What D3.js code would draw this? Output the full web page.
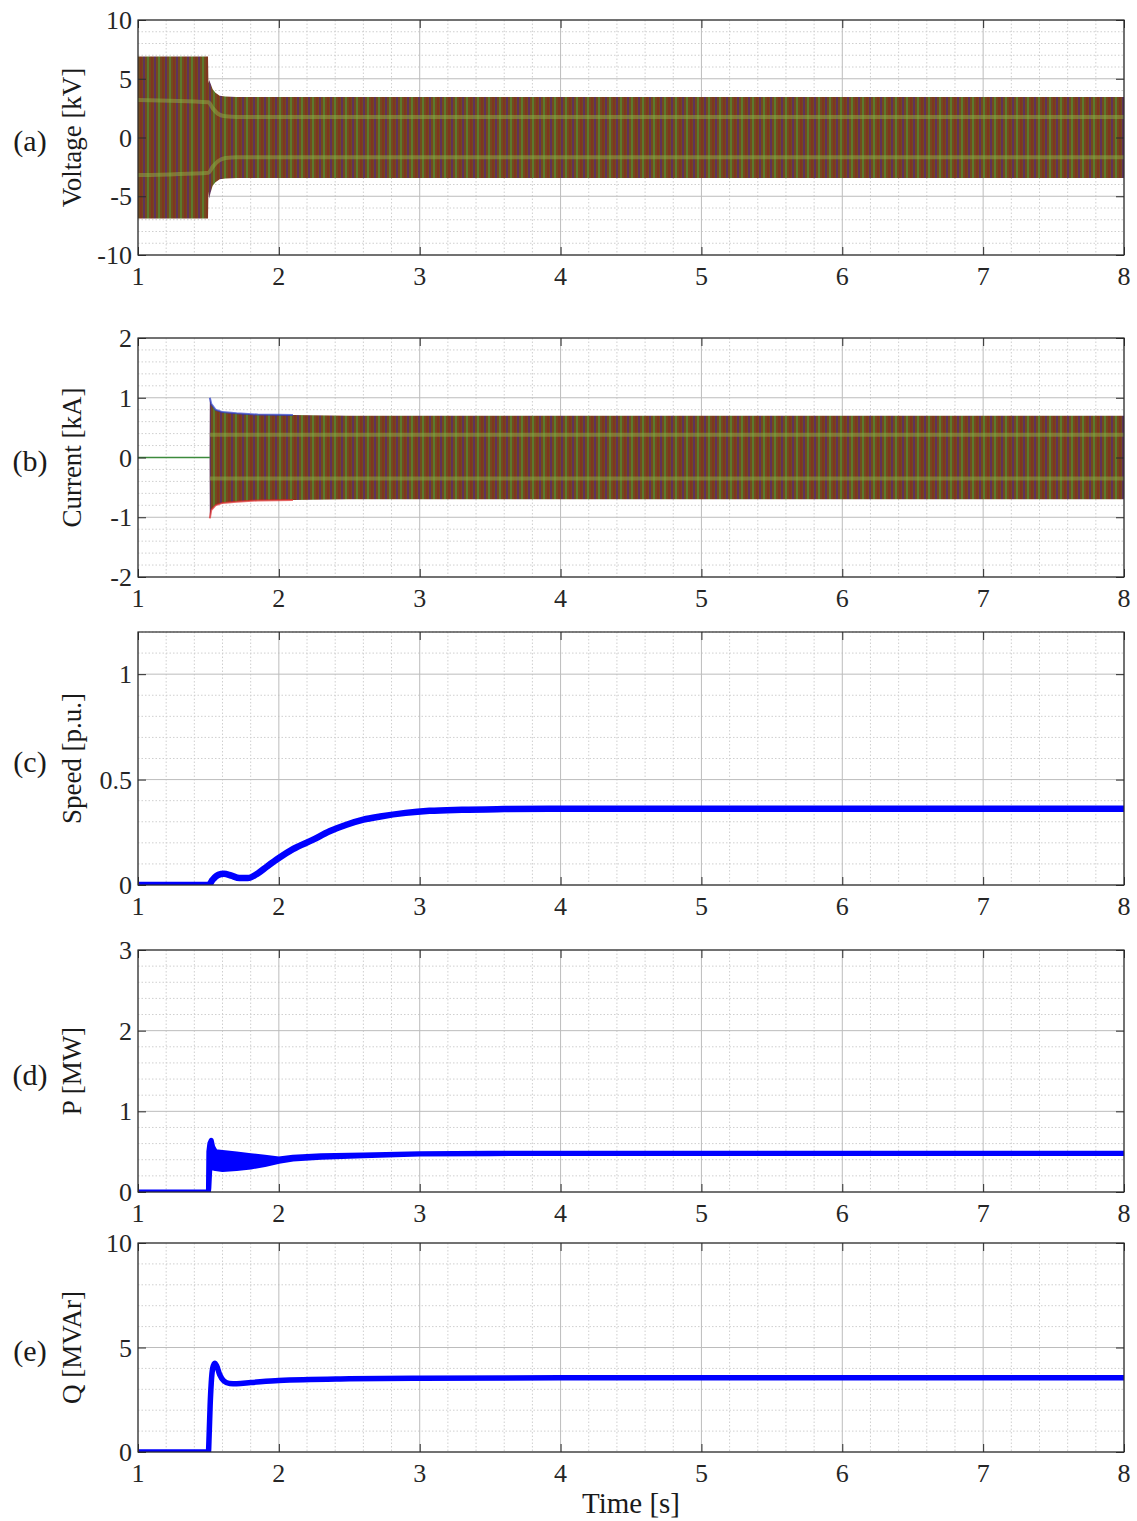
<!DOCTYPE html>
<html>
<head>
<meta charset="utf-8">
<script src="https://cdn.jsdelivr.net/npm/d3@7"></script>
<style>
  body { margin: 0; background: #fff; }
  svg text { font-family: "Liberation Serif", "DejaVu Serif", serif; }
</style>
</head>
<body>
<div id="chart"></div>
<script>
// ---- data ----
const xTicks = [1, 2, 3, 4, 5, 6, 7, 8];

// (a) voltage envelope of the three phases [kV]
const voltTime = [1.0, 1.497, 1.5, 1.505, 1.515, 1.53, 1.55, 1.58, 1.62, 1.7, 2.0, 3.0, 8.0];
const voltHi   = [6.9, 6.9, 4.6, 4.9, 4.6, 4.1, 3.8, 3.55, 3.48, 3.45, 3.45, 3.45, 3.45];
const voltLo   = [-6.9, -6.9, -4.6, -5.2, -4.7, -4.1, -3.8, -3.55, -3.48, -3.45, -3.45, -3.45, -3.45];
// phase-crossing levels (light green streaks)
const voltMidTime = [1.0, 1.5, 1.53, 1.57, 1.62, 1.7, 8.0];
const voltMidHi   = [3.2, 3.0, 2.5, 2.0, 1.8, 1.75, 1.75];
const voltMidLo   = [-3.2, -3.0, -2.5, -2.0, -1.75, -1.68, -1.68];

// (b) current envelope [kA]
const currTime = [1.0, 1.508, 1.51, 1.52, 1.55, 1.6, 1.7, 1.85, 2.1, 2.5, 8.0];
const currHi   = [0, 0, 1.0, 0.9, 0.8, 0.76, 0.74, 0.72, 0.71, 0.7, 0.7];
const currLo   = [0, 0, -1.02, -0.88, -0.8, -0.76, -0.74, -0.72, -0.71, -0.7, -0.7];
const currMidTime = [1.51, 8.0];
const currMidHi   = [0.38, 0.38];
const currMidLo   = [-0.35, -0.35];

// (c) speed [p.u.]
const speedTime = [1, 1.5, 1.53, 1.57, 1.61, 1.66, 1.72, 1.78, 1.85, 1.92, 2.0, 2.1, 2.24, 2.36, 2.48, 2.6, 2.72, 2.9, 3.07, 3.3, 3.6, 4, 5, 8];
const speedVal  = [0, 0, 0.025, 0.048, 0.053, 0.045, 0.033, 0.033, 0.055, 0.09, 0.128, 0.17, 0.214, 0.255, 0.286, 0.31, 0.325, 0.342, 0.352, 0.357, 0.36, 0.362, 0.362, 0.362];

// (d) active power band [MW]
const pTime = [1, 1.5, 1.503, 1.51, 1.52, 1.53, 1.55, 1.6, 1.7, 1.8, 1.9, 2.0, 2.1, 2.3, 2.6, 3.0, 3.5, 4, 8];
const pHi   = [0, 0, 0.5, 0.6, 0.64, 0.56, 0.5, 0.49, 0.47, 0.45, 0.43, 0.41, 0.43, 0.45, 0.46, 0.475, 0.48, 0.48, 0.48];
const pLo   = [0, 0, 0.05, 0.3, 0.3, 0.3, 0.29, 0.28, 0.29, 0.31, 0.34, 0.38, 0.41, 0.43, 0.45, 0.47, 0.475, 0.478, 0.478];

// (e) reactive power [MVAr]
const qTime = [1, 1.5, 1.505, 1.512, 1.52, 1.53, 1.545, 1.56, 1.58, 1.61, 1.65, 1.7, 1.8, 2.0, 2.5, 3.0, 4.0, 8];
const qVal  = [0, 0, 0.8, 2.2, 3.3, 4.0, 4.25, 4.1, 3.7, 3.4, 3.28, 3.27, 3.32, 3.42, 3.5, 3.53, 3.55, 3.55];

// panel axes
const panels = [
  {id: "a", label: "Voltage [kV]", letter: "(a)", top: 20,   bottom: 255,  domain: [-10, 10], ticks: [-10, -5, 0, 5, 10], minor: 1},
  {id: "b", label: "Current [kA]", letter: "(b)", top: 338,  bottom: 577,  domain: [-2, 2],   ticks: [-2, -1, 0, 1, 2],   minor: 0.2},
  {id: "c", label: "Speed [p.u.]", letter: "(c)", top: 632,  bottom: 885,  domain: [0, 1.2],  ticks: [0, 0.5, 1],         minor: 0.1},
  {id: "d", label: "P [MW]",       letter: "(d)", top: 950,  bottom: 1192, domain: [0, 3],    ticks: [0, 1, 2, 3],        minor: 0.2},
  {id: "e", label: "Q [MVAr]",     letter: "(e)", top: 1243, bottom: 1452, domain: [0, 10],   ticks: [0, 5, 10],          minor: 1}
];

const W = 1137, H = 1521;
const left = 138, right = 1124;
const boxColor = "#2b2b2b";
const serif = "'Liberation Serif', 'DejaVu Serif', serif";

const svg = d3.select("#chart").append("svg")
  .attr("width", W).attr("height", H);

const defs = svg.append("defs");

// striped fill imitating the dense three-phase waveform
const pat = defs.append("pattern")
  .attr("id", "phases")
  .attr("patternUnits", "userSpaceOnUse")
  .attr("width", 11).attr("height", 20);
pat.append("rect").attr("width", 11).attr("height", 20).attr("fill", "#734a1e");
pat.append("rect").attr("x", 0).attr("width", 2).attr("height", 20).attr("fill", "#5f325c");
pat.append("rect").attr("x", 4).attr("width", 2).attr("height", 20).attr("fill", "#5c7a2c");
pat.append("rect").attr("x", 8).attr("width", 2).attr("height", 20).attr("fill", "#80361f");

const x = d3.scaleLinear().domain([1, 8]).range([left, right]);

function zip(t, v) { return t.map((d, i) => ({t: d, v: v[i]})); }
function zip2(t, lo, hi) { return t.map((d, i) => ({t: d, lo: lo[i], hi: hi[i]})); }

panels.forEach(p => {
  const y = d3.scaleLinear().domain(p.domain).range([p.bottom, p.top]);
  p.y = y;
  const g = svg.append("g").attr("class", "panel-" + p.id);
  p.g = g;

  defs.append("clipPath").attr("id", "clip-" + p.id)
    .append("rect")
    .attr("x", left).attr("y", p.top)
    .attr("width", right - left).attr("height", p.bottom - p.top);

  // minor grid
  const xMinor = d3.range(1, 8.0001, 0.2).filter(v => Math.abs(v - Math.round(v)) > 1e-6);
  const yMinor = d3.range(p.domain[0], p.domain[1] + 1e-9, p.minor)
    .filter(v => !p.ticks.some(t => Math.abs(t - v) < 1e-6));

  g.append("g").selectAll("line").data(xMinor).enter().append("line")
    .attr("x1", d => x(d)).attr("x2", d => x(d))
    .attr("y1", p.top).attr("y2", p.bottom)
    .attr("stroke", "#cfcfcf").attr("stroke-width", 1)
    .attr("stroke-dasharray", "1.5,2");
  g.append("g").selectAll("line").data(yMinor).enter().append("line")
    .attr("x1", left).attr("x2", right)
    .attr("y1", d => y(d)).attr("y2", d => y(d))
    .attr("stroke", "#cfcfcf").attr("stroke-width", 1)
    .attr("stroke-dasharray", "1.5,2");

  // major grid
  g.append("g").selectAll("line").data(xTicks).enter().append("line")
    .attr("x1", d => x(d)).attr("x2", d => x(d))
    .attr("y1", p.top).attr("y2", p.bottom)
    .attr("stroke", "#bcbcbc").attr("stroke-width", 1);
  g.append("g").selectAll("line").data(p.ticks).enter().append("line")
    .attr("x1", left).attr("x2", right)
    .attr("y1", d => y(d)).attr("y2", d => y(d))
    .attr("stroke", "#bcbcbc").attr("stroke-width", 1);

  p.plot = g.append("g").attr("clip-path", `url(#clip-${p.id})`);
});

function drawFrame(p) {
  const g = p.g, y = p.y;
  g.append("rect")
    .attr("x", left).attr("y", p.top)
    .attr("width", right - left).attr("height", p.bottom - p.top)
    .attr("fill", "none").attr("stroke", boxColor).attr("stroke-width", 1.2);

  // inward tick marks via d3 axes
  const axL = g.append("g").attr("transform", `translate(${left},0)`)
    .call(d3.axisRight(y).tickValues(p.ticks).tickSize(8).tickFormat(""));
  const axR = g.append("g").attr("transform", `translate(${right},0)`)
    .call(d3.axisLeft(y).tickValues(p.ticks).tickSize(8).tickFormat(""));
  const axB = g.append("g").attr("transform", `translate(0,${p.bottom})`)
    .call(d3.axisTop(x).tickValues(xTicks).tickSize(8).tickFormat(""));
  const axT = g.append("g").attr("transform", `translate(0,${p.top})`)
    .call(d3.axisBottom(x).tickValues(xTicks).tickSize(8).tickFormat(""));
  [axL, axR, axB, axT].forEach(a => {
    a.select(".domain").remove();
    a.selectAll("line").attr("stroke", boxColor);
  });

  // tick labels
  g.append("g").selectAll("text").data(p.ticks).enter().append("text")
    .attr("x", left - 6).attr("y", d => y(d))
    .attr("dy", "0.35em").attr("text-anchor", "end")
    .style("font-family", serif).style("font-size", "26px").attr("fill", "#262626")
    .text(d => d);
  g.append("g").selectAll("text").data(xTicks).enter().append("text")
    .attr("x", d => x(d)).attr("y", p.bottom + 21)
    .attr("dy", "0.35em").attr("text-anchor", "middle")
    .style("font-family", serif).style("font-size", "26px").attr("fill", "#262626")
    .text(d => d);

  const cy = (p.top + p.bottom) / 2;
  g.append("text")
    .attr("transform", `translate(72,${cy}) rotate(-90)`)
    .attr("dy", "0.35em").attr("text-anchor", "middle")
    .style("font-family", serif).style("font-size", "27px").attr("fill", "#1a1a1a")
    .text(p.label);
  g.append("text")
    .attr("x", 30).attr("y", cy + 3)
    .attr("dy", "0.35em").attr("text-anchor", "middle")
    .style("font-family", serif).style("font-size", "30px").attr("fill", "#1a1a1a")
    .text(p.letter);
}

// ---- (a) voltage ----
{
  const p = panels[0], y = p.y;
  const band = d3.area().x(d => x(d.t)).y0(d => y(d.lo)).y1(d => y(d.hi));
  p.plot.append("path").datum(zip2(voltTime, voltLo, voltHi))
    .attr("d", band).attr("fill", "url(#phases)");
  const mid = d3.line().x(d => x(d.t)).y(d => y(d.v)).curve(d3.curveMonotoneX);
  [voltMidHi, voltMidLo].forEach(arr => {
    p.plot.append("path").datum(zip(voltMidTime, arr))
      .attr("d", mid).attr("fill", "none")
      .attr("stroke", "#8fb046").attr("stroke-opacity", 0.5).attr("stroke-width", 4);
  });
}

// ---- (b) current ----
{
  const p = panels[1], y = p.y;
  const band = d3.area().x(d => x(d.t)).y0(d => y(d.lo)).y1(d => y(d.hi));
  p.plot.append("path").datum(zip2(currTime, currLo, currHi))
    .attr("d", band).attr("fill", "url(#phases)");
  // transient peaks: blue on top, red below
  const edgeHi = d3.line().x(d => x(d.t)).y(d => y(d.hi));
  const edgeLo = d3.line().x(d => x(d.t)).y(d => y(d.lo));
  const trans = zip2(currTime, currLo, currHi).filter(d => d.t >= 1.51 && d.t <= 2.1);
  p.plot.append("path").datum(trans).attr("d", edgeHi)
    .attr("fill", "none").attr("stroke", "#2a3fd0").attr("stroke-width", 2).attr("stroke-opacity", 0.7);
  p.plot.append("path").datum(trans).attr("d", edgeLo)
    .attr("fill", "none").attr("stroke", "#e02a2a").attr("stroke-width", 2).attr("stroke-opacity", 0.7);
  // zero line before switching
  p.plot.append("line")
    .attr("x1", x(1)).attr("x2", x(1.51)).attr("y1", y(0)).attr("y2", y(0))
    .attr("stroke", "#3c8a3c").attr("stroke-width", 1.5);
  const mid = d3.line().x(d => x(d.t)).y(d => y(d.v));
  [currMidHi, currMidLo].forEach(arr => {
    p.plot.append("path").datum(zip(currMidTime, arr))
      .attr("d", mid).attr("fill", "none")
      .attr("stroke", "#8fb046").attr("stroke-opacity", 0.5).attr("stroke-width", 4);
  });
}

// ---- (c) speed ----
{
  const p = panels[2], y = p.y;
  const line = d3.line().x(d => x(d.t)).y(d => y(d.v)).curve(d3.curveMonotoneX);
  p.plot.append("path").datum(zip(speedTime, speedVal))
    .attr("d", line).attr("fill", "none")
    .attr("stroke", "#0000ff").attr("stroke-width", 6.5).attr("stroke-linejoin", "round");
}

// ---- (d) P ----
{
  const p = panels[3], y = p.y;
  const band = d3.area().x(d => x(d.t)).y0(d => y(d.lo)).y1(d => y(d.hi));
  p.plot.append("path").datum(zip2(pTime, pLo, pHi))
    .attr("d", band).attr("fill", "#0000ff")
    .attr("stroke", "#0000ff").attr("stroke-width", 5).attr("stroke-linejoin", "round");
}

// ---- (e) Q ----
{
  const p = panels[4], y = p.y;
  const line = d3.line().x(d => x(d.t)).y(d => y(d.v)).curve(d3.curveMonotoneX);
  p.plot.append("path").datum(zip(qTime, qVal))
    .attr("d", line).attr("fill", "none")
    .attr("stroke", "#0000ff").attr("stroke-width", 5.5).attr("stroke-linejoin", "round");
}

panels.forEach(drawFrame);

svg.append("text")
  .attr("x", (left + right) / 2).attr("y", 1503)
  .attr("dy", "0.35em").attr("text-anchor", "middle")
  .style("font-family", serif).style("font-size", "29px").attr("fill", "#1a1a1a")
  .text("Time [s]");
</script>
</body>
</html>
